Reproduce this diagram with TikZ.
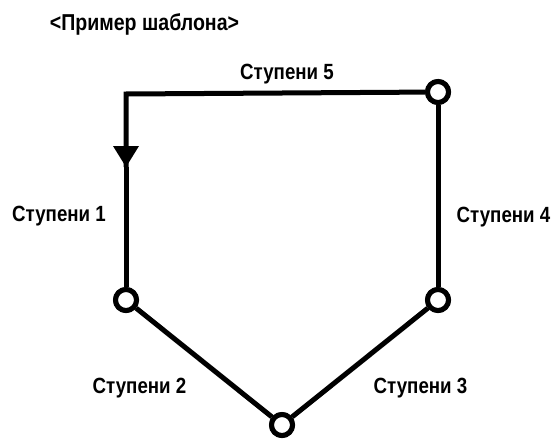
\documentclass[tikz,border=0pt]{standalone}
\usepackage{fontspec}
\setmainfont[FakeStretch=0.85]{Liberation Sans}
\usetikzlibrary{arrows.meta}
\begin{document}
\begin{tikzpicture}[x=1pt,y=1pt,
  lbl/.style={font=\fontsize{22}{26}\selectfont\bfseries, inner sep=0pt, anchor=base},
  ttl/.style={font=\fontsize{23}{27}\selectfont\bfseries, inner sep=0pt, anchor=base},
  pin/.style={circle, draw=black, fill=white, line width=5pt, minimum size=21pt, inner sep=0pt},
  link/.style={line width=5pt}]
\useasboundingbox (0,0) rectangle (556,-439);
\node[ttl] (title) at (144.5,-30) {<Пример шаблона>};
\coordinate (corner) at (126,-94);
\coordinate (tip) at (126,-167);
\node[pin] (n5) at (438,-92) {};
\node[pin] (n4) at (438,-300) {};
\node[pin] (n1) at (126,-300) {};
\node[pin] (n0) at (282,-425) {};
\draw[link] (n5) -- (corner) -- (tip);
\fill (tip) -- ++(-13,21) -- ++(26,0) -- cycle;
\draw[link] (tip) -- (n1);
\draw[link] (n1) -- (n0);
\draw[link] (n0) -- (n4);
\draw[link] (n4) -- (n5);
\node[pin] at (n5) {};
\node[pin] at (n4) {};
\node[pin] at (n1) {};
\node[pin] at (n0) {};
\node[lbl] (s5) at (287,-79) {Ступени 5};
\node[lbl] (s1) at (59,-221) {Ступени 1};
\node[lbl] (s4) at (503.5,-222) {Ступени 4};
\node[lbl] (s2) at (139.5,-393) {Ступени 2};
\node[lbl] (s3) at (420.5,-393) {Ступени 3};
\end{tikzpicture}
\end{document}
